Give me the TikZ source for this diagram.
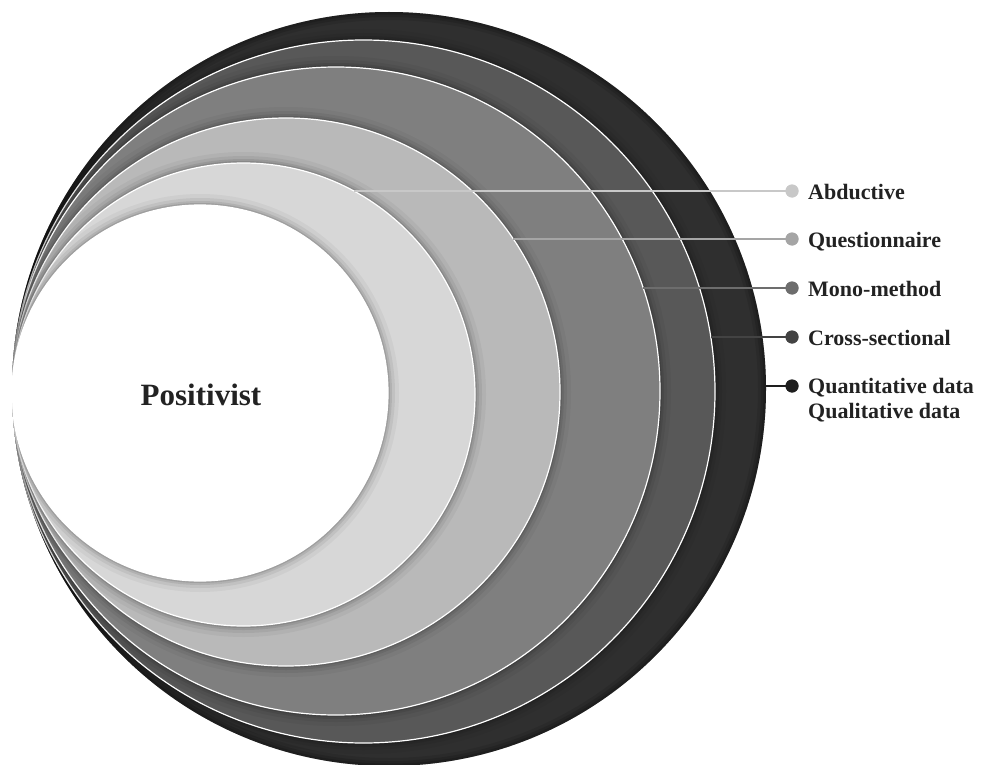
\documentclass[tikz,border=0pt]{standalone}
\usepackage{fontspec}
\setmainfont{Liberation Serif}
\definecolor{cA}{HTML}{2F2F2F}
\definecolor{cB}{HTML}{585858}
\definecolor{cC}{HTML}{7F7F7F}
\definecolor{cD}{HTML}{B9B9B9}
\definecolor{cE}{HTML}{D7D7D7}
\definecolor{lA}{HTML}{C8C8C8}
\definecolor{lB}{HTML}{A5A5A5}
\definecolor{lC}{HTML}{6D6D6D}
\definecolor{lD}{HTML}{434343}
\definecolor{lE}{HTML}{1E1E1E}
\definecolor{txt}{HTML}{222222}
\begin{document}
\begin{tikzpicture}[x=1pt,y=-1pt,
  ringedge/.style={draw=white, line width=1.2pt},
  dotnode/.style={circle, inner sep=0pt, minimum size=13pt},
  lbl/.style={font=\fontsize{22}{26}\selectfont\bfseries, text=txt, inner sep=0pt, anchor=base west},
  lead/.style={line width=2pt}]
\useasboundingbox (0,0) rectangle (982,765);

% outer circle
\fill[cA] (389,389) circle[radius=377pt];
\begin{scope}
  \clip (389,389) circle[radius=377pt];
  \foreach \w/\o in {16/0.10,10/0.12,5/0.15}{
    \draw[black, line width=\w pt, opacity=\o] (389,389) circle[radius=377pt];
  }
  % inner rings with soft shadows
  \foreach \cx/\cy/\r/\col in {363.5/391.5/351.5/cB, 336/391/324/cC, 286/392/274/cD, 243.5/394.5/231.5/cE, 200/393/188/white}{
    \foreach \w/\o in {22/0.04,14/0.06,8/0.08,4/0.10}{
      \draw[black, line width=\w pt, opacity=\o] (\cx,\cy) circle[radius=\r pt];
    }
    \fill[\col] (\cx,\cy) circle[radius=\r pt];
    \draw[ringedge] (\cx,\cy) circle[radius=\r pt];
  }
\end{scope}

\node[font=\fontsize{31}{36}\selectfont\bfseries, text=txt, inner sep=0pt, anchor=base] (pos) at (201,405) {Positivist};

% leader start points on the circles
\coordinate (sA) at (354,191);
\coordinate (sB) at (513,239);
\coordinate (sC) at (643,288);
\coordinate (sD) at (711,337);
\coordinate (sE) at (766,386);

\node[dotnode, fill=lA] (dA) at (792,191) {};
\node[dotnode, fill=lB] (dB) at (792,239) {};
\node[dotnode, fill=lC] (dC) at (792,288) {};
\node[dotnode, fill=lD] (dD) at (792,337) {};
\node[dotnode, fill=lE] (dE) at (792,386) {};

\draw[lead, lA] (sA) -- (dA.center);
\draw[lead, lB] (sB) -- (dB.center);
\draw[lead, lC] (sC) -- (dC.center);
\draw[lead, lD] (sD) -- (dD.center);
\draw[lead, lE] (sE) -- (dE.center);

\node[dotnode, fill=lA] at (dA) {};
\node[dotnode, fill=lB] at (dB) {};
\node[dotnode, fill=lC] at (dC) {};
\node[dotnode, fill=lD] at (dD) {};
\node[dotnode, fill=lE] at (dE) {};

\node[lbl] (tA) at (808,199) {Abductive};
\node[lbl] (tB) at (808,247) {Questionnaire};
\node[lbl] (tC) at (808,296) {Mono-method};
\node[lbl] (tD) at (808,345) {Cross-sectional};
\node[lbl] (tE) at (808,393) {Quantitative data};
\node[lbl] (tF) at (808,418) {Qualitative data};
\end{tikzpicture}
\end{document}
